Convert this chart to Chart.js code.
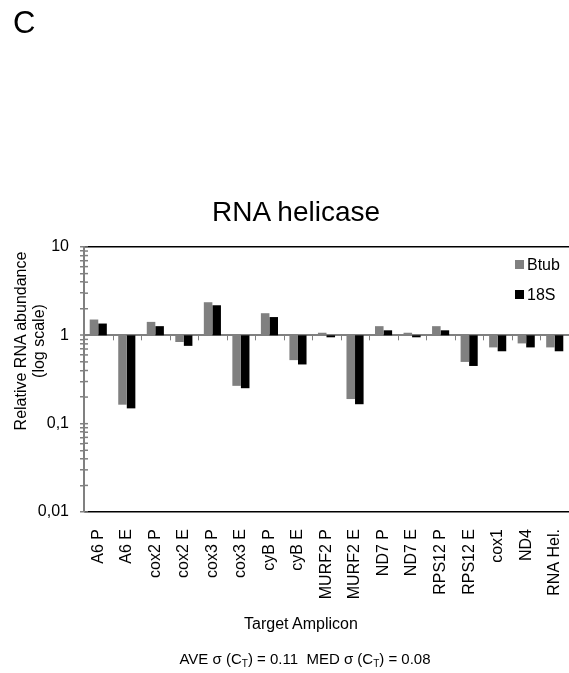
<!DOCTYPE html>
<html>
<head>
<meta charset="utf-8">
<script src="https://cdn.jsdelivr.net/npm/chart.js@4.4.1/dist/chart.umd.min.js"></script>
<style>
    body { margin: 0; background: #fff; }
    #wrap { position: relative; width: 569px; height: 673px; font-family: "Liberation Sans", Arial, sans-serif; color: #000; }
    #chart { position: absolute; left: 0; top: 0; }
    .txt { position: absolute; white-space: nowrap; }
    #panel { left: 13px; top: 5px; font-size: 31px; }
    #title { left: 196px; width: 200px; top: 196px; font-size: 28px; text-align: center; }
    #ytitle { left: -70px; width: 200px; top: 323px; font-size: 16px; line-height: 18px; text-align: center; transform: rotate(-90deg); }
    #xtitle { left: 201px; width: 200px; top: 615px; font-size: 16px; text-align: center; }
    #note { left: 155px; width: 300px; top: 650px; font-size: 15px; text-align: center; }
    #note sub { font-size: 10px; vertical-align: -3px; }
    .leg { position: absolute; left: 515px; font-size: 16px; line-height: 18px; }
    .leg i { display: inline-block; width: 9px; height: 9px; margin-right: 3px; vertical-align: 1px; }
</style>
</head>
<body>
<div id="wrap">
    <canvas id="chart" width="569" height="673"></canvas>
    <div class="txt" id="panel">C</div>
    <div class="txt" id="title">RNA helicase</div>
    <div class="txt" id="ytitle">Relative RNA abundance<br>(log scale)</div>
    <div class="txt" id="xtitle">Target Amplicon</div>
    <div class="txt" id="note">AVE σ (C<sub>T</sub>) = 0.11&nbsp; MED σ (C<sub>T</sub>) = 0.08</div>
    <div class="leg" style="top:256px"><i style="background:#808080"></i>Btub</div>
    <div class="leg" style="top:286px"><i style="background:#000"></i>18S</div>
</div>

<script>
// ---------- DATA ----------
const amplicons = ['A6 P', 'A6 E', 'cox2 P', 'cox2 E', 'cox3 P', 'cox3 E', 'cyB P', 'cyB E',
    'MURF2 P', 'MURF2 E', 'ND7 P', 'ND7 E', 'RPS12 P', 'RPS12 E', 'cox1', 'ND4', 'RNA Hel.'];
const btub = [1.51, 0.164, 1.42, 0.84, 2.37, 0.268, 1.78, 0.524, 1.07, 0.19, 1.27, 1.07, 1.27, 0.50, 0.73, 0.81, 0.73];
const s18 = [1.36, 0.149, 1.27, 0.76, 2.19, 0.252, 1.61, 0.468, 0.95, 0.166, 1.14, 0.95, 1.14, 0.45, 0.66, 0.73, 0.66];
const majorTicks = [0.01, 0.1, 1, 10];
const tickText = ['0,01', '0,1', '1', '10'];
const minorSteps = [1, 2, 3, 4, 5, 6, 7, 8, 9];

const GRAY = '#808080';
const FONT = '"Liberation Sans", Arial, sans-serif';

// bars hang from 1 (the x axis crosses there)
const fromOne = arr => arr.map(v => [1, v]);

// all log ticks: 0.01, 0.02 ... 9, 10
const logTicks = majorTicks.slice(0, -1)
    .flatMap(d => minorSteps.map(m => +(m * d).toPrecision(3)))
    .concat(majorTicks[majorTicks.length - 1]);

function majorIndex(v) {
    return majorTicks.findIndex(m => Math.abs(m - v) < m * 1e-6);
}

// category ticks under the line at 1, and the inner half of the y ticks
const axisMarks = {
    id: 'axisMarks',
    afterDatasetsDraw(chart) {
        const x = chart.scales.x, y = chart.scales.y;
        const ctx = chart.ctx;
        const y1 = y.getPixelForValue(1);
        const half = (x.getPixelForValue(1) - x.getPixelForValue(0)) / 2;
        ctx.save();
        ctx.strokeStyle = GRAY;
        ctx.lineWidth = 1;
        for (let i = 0; i <= amplicons.length; i++) {
            const px = Math.round(x.getPixelForValue(i) - half) + 0.5;
            ctx.beginPath();
            ctx.moveTo(px, y1);
            ctx.lineTo(px, y1 + 5);
            ctx.stroke();
        }
        ctx.lineWidth = 1.5;
        logTicks.forEach(v => {
            const py = y.getPixelForValue(v);
            ctx.beginPath();
            ctx.moveTo(x.left, py);
            ctx.lineTo(x.left + 4, py);
            ctx.stroke();
        });
        ctx.restore();
    }
};

new Chart(document.getElementById('chart'), {
    type: 'bar',
    data: {
        labels: amplicons,
        datasets: [
            { label: 'Btub', data: fromOne(btub), backgroundColor: GRAY },
            { label: '18S', data: fromOne(s18), backgroundColor: '#000000' }
        ]
    },
    options: {
        responsive: false,
        animation: false,
        devicePixelRatio: 1,
        layout: { padding: { top: 247, right: 0, left: 0, bottom: 0 } },
        datasets: { bar: { barPercentage: 1, categoryPercentage: 0.6 } },
        plugins: { legend: { display: false }, title: { display: false }, tooltip: { enabled: false } },
        scales: {
            x: {
                afterFit: s => { s.height = 161; s.paddingRight = 0; s.paddingLeft = 0; },
                grid: { display: false },
                border: { display: false },
                ticks: {
                    minRotation: 90, maxRotation: 90, padding: 9,
                    color: '#000',
                    font: { family: FONT, size: 16 }
                }
            },
            y: {
                type: 'logarithmic',
                min: 0.01,
                max: 10,
                afterFit: s => { s.width = 84; },
                afterBuildTicks: s => { s.ticks = logTicks.map(v => ({ value: v, major: majorIndex(v) >= 0 })); },
                border: { color: GRAY, width: 2 },
                grid: {
                    drawOnChartArea: true,
                    tickLength: 4,
                    color: c => {
                        const v = c.tick.value;
                        if (v === 1) return GRAY;
                        if (v === 10 || v === 0.01) return '#000';
                        return 'rgba(0,0,0,0)';
                    },
                    lineWidth: c => (c.tick.value === 1 ? 2 : 1.5),
                    tickColor: GRAY,
                    tickWidth: 1.5
                },
                ticks: {
                    autoSkip: false,
                    padding: 11,
                    color: '#000',
                    font: { family: FONT, size: 16 },
                    callback: v => (majorIndex(v) >= 0 ? tickText[majorIndex(v)] : '')
                }
            }
        }
    },
    plugins: [axisMarks]
});
</script>
</body>
</html>
